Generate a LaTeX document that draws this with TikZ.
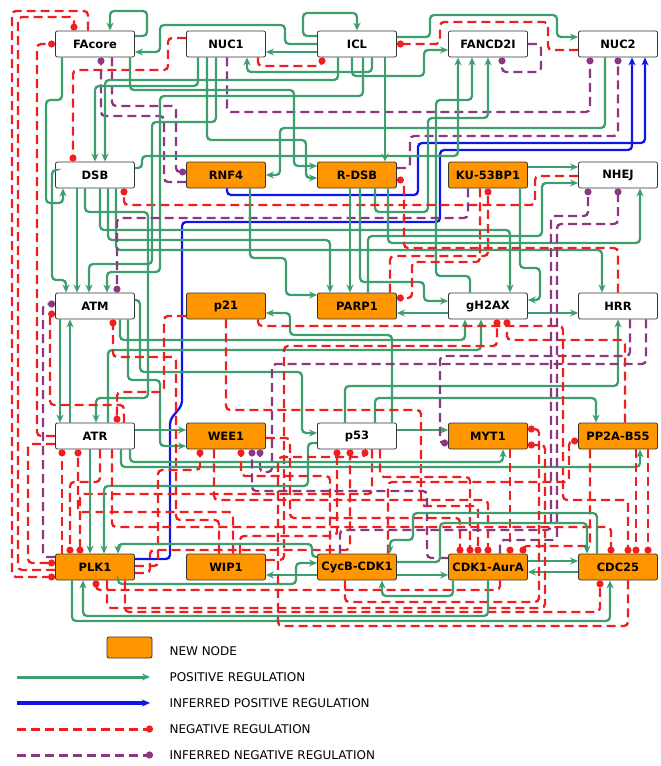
\documentclass[tikz,border=0pt]{standalone}
\usepackage{fontspec}
\setmainfont{DejaVu Sans}
\usetikzlibrary{arrows.meta}
\definecolor{posgreen}{RGB}{61,158,110}
\definecolor{negred}{RGB}{240,30,30}
\definecolor{infpurple}{RGB}{140,55,130}
\definecolor{infblue}{RGB}{15,20,235}
\definecolor{neworange}{RGB}{255,150,0}
\begin{document}
\begin{tikzpicture}[x=1pt,y=-1pt,
  gene/.style={draw=black!80, line width=.8pt, rounded corners=2pt, fill=white,
    minimum width=79pt, minimum height=26pt, inner xsep=1pt,
    font=\bfseries\fontsize{11.5}{13}\selectfont},
  newgene/.style={gene, fill=neworange},
  posreg/.style={draw=posgreen, line width=2.3pt, rounded corners=4pt, -{Stealth[length=8pt,width=7pt]}},
  iposreg/.style={posreg, draw=infblue},
  negreg/.style={draw=negred, line width=2.3pt, rounded corners=4pt, dash pattern=on 9pt off 5pt, -{Circle[length=7pt]}},
  inegreg/.style={negreg, draw=infpurple},
  lgtext/.style={anchor=west, font=\fontsize{12}{14}\selectfont}]
\useasboundingbox (0,0) rectangle (661,766);

\node[gene] (FAcore) at (95,44) {FAcore};
\node[gene] (NUC1) at (226,44) {NUC1};
\node[gene] (ICL) at (357,44) {ICL};
\node[gene] (FANCD2I) at (488,44) {FANCD2I};
\node[gene] (NUC2) at (618,44) {NUC2};
\node[gene] (DSB) at (95,175) {DSB};
\node[newgene] (RNF4) at (226,175) {RNF4};
\node[newgene] (R-DSB) at (357,175) {R-DSB};
\node[newgene] (KU-53BP1) at (488,175) {KU-53BP1};
\node[gene] (NHEJ) at (618,175) {NHEJ};
\node[gene] (ATM) at (95,306) {ATM};
\node[newgene] (p21) at (226,306) {p21};
\node[newgene] (PARP1) at (357,306) {PARP1};
\node[gene] (gH2AX) at (488,306) {gH2AX};
\node[gene] (HRR) at (618,306) {HRR};
\node[gene] (ATR) at (95,436) {ATR};
\node[newgene] (WEE1) at (226,436) {WEE1};
\node[gene] (p53) at (357,436) {p53};
\node[newgene] (MYT1) at (488,436) {MYT1};
\node[newgene] (PP2A-B55) at (618,436) {PP2A-B55};
\node[newgene] (PLK1) at (95,567) {PLK1};
\node[newgene] (WIP1) at (226,567) {WIP1};
\node[newgene] (CycB-CDK1) at (357,567) {CycB-CDK1};
\node[newgene] (CDK1-AurA) at (488,567) {CDK1-AurA};
\node[newgene] (CDC25) at (618,567) {CDC25};

% row 1 -> row 2
\draw[posreg] (FAcore.east|-0,36) -- (147,36) -- (147,11) -- (110,11) -- (110,0|-FAcore.north);
\draw[posreg] (ICL.west|-0,44) -- (285,44) -- (285,25) -- (160,25) -- (160,52) -- (FAcore.east|-0,52);
\draw[posreg] (ICL.west|-0,52) -- (NUC1.east|-0,52);
\draw[posreg] (ICL.west|-0,36) -- (303,36) -- (303,13) -- (357,13) -- (ICL.north);
\draw[posreg] (ICL.east|-0,37) -- (430,37) -- (430,15) -- (557,15) -- (557,37) -- (NUC2.west|-0,37);
\draw[negreg] (NUC2.west|-0,50) -- (548,50) -- (548,22) -- (440,22) -- (440,44) -- (ICL.east|-0,44);
\draw[inegreg] (FANCD2I.east|-0,44) -- (541,44) -- (541,72) -- (502,72) -- (502,0|-FANCD2I.south);
\draw[negreg] (NUC1.west|-0,38) -- (168,38) -- (168,70) -- (73,70) -- (73,0|-DSB.north);
\draw[negreg] (258,0|-NUC1.south) -- (258,66) -- (322,66) -- (322,0|-ICL.south);
\draw[inegreg] (227,0|-NUC1.south) -- (227,112) -- (590,112) -- (590,0|-NUC2.south);
\draw[inegreg] (R-DSB.east|-0,168) -- (410,168) -- (410,136) -- (618,136) -- (618,0|-NUC2.south);
\draw[iposreg] (227,0|-RNF4.south) -- (227,195) -- (418,195) -- (418,143) -- (645,143) -- (645,0|-NUC2.south);
\draw[iposreg] (PLK1.east|-0,559) -- (170,559) -- (170,420) -- (182,405) -- (182,222) -- (440,222) -- (440,150) -- (632,150) -- (632,0|-NUC2.south);
\draw[inegreg] (RNF4.west|-0,182) -- (164,182) -- (164,116) -- (101,116) -- (101,0|-FAcore.south);
\draw[inegreg] (112,0|-FAcore.south) -- (112,106) -- (176,106) -- (176,172) -- (RNF4.west|-0,172);
\draw[posreg] (62,0|-FAcore.south) -- (62,100) -- (46,100) -- (46,203) -- (63,203) -- (63,0|-DSB.south);
\draw[posreg] (130,0|-FAcore.south) -- (130,90) -- (294,90) -- (294,166) -- (R-DSB.west|-0,166);
\draw[posreg] (385,0|-ICL.south) -- (385,0|-R-DSB.north);
\draw[posreg] (338,0|-ICL.south) -- (338,80) -- (105,80) -- (105,0|-DSB.north);
\draw[posreg] (352,0|-ICL.south) -- (352,76) -- (424,76) -- (424,50) -- (FANCD2I.west|-0,50);
\draw[posreg] (372,0|-ICL.south) -- (372,72) -- (247,72) -- (247,0|-NUC1.south);
\draw[posreg] (605,0|-NUC2.south) -- (605,128) -- (280,128) -- (280,175) -- (RNF4.east|-0,175);
\draw[posreg] (207,0|-NUC1.south) -- (207,140) -- (306,140) -- (306,178) -- (R-DSB.west|-0,178);
\draw[posreg] (198,0|-NUC1.south) -- (198,86) -- (95,86) -- (95,0|-DSB.north);
\draw[posreg] (DSB.east|-0,168) -- (142,168) -- (142,156) -- (458,156) -- (458,0|-FANCD2I.south);
\draw[posreg] (470,0|-gH2AX.north) -- (470,276) -- (436,276) -- (436,100) -- (472,100) -- (472,0|-FANCD2I.south);
\draw[posreg] (375,0|-R-DSB.south) -- (375,212) -- (428,212) -- (428,118) -- (488,118) -- (488,0|-FANCD2I.south);

% row 2 -> row 3
\draw[posreg] (77,0|-DSB.south) -- (77,0|-ATM.north);
\draw[posreg] (85,0|-DSB.south) -- (85,212) -- (148,212) -- (148,398) -- (96,398) -- (96,0|-ATR.north);
\draw[posreg] (100,0|-DSB.south) -- (100,230) -- (510,230) -- (510,0|-gH2AX.north);
\draw[posreg] (108,0|-DSB.south) -- (108,240) -- (330,240) -- (330,0|-PARP1.north);
\draw[posreg] (116,0|-DSB.south) -- (116,250) -- (602,250) -- (602,0|-HRR.north);
\draw[negreg] (NHEJ.west|-0,176) -- (535,176) -- (535,205) -- (124,205) -- (124,0|-DSB.south);
\draw[posreg] (363,0|-ICL.south) -- (363,96) -- (160,96) -- (160,272) -- (107,272) -- (107,0|-ATM.north);
\draw[posreg] (216,0|-NUC1.south) -- (216,122) -- (152,122) -- (152,264) -- (89,264) -- (89,0|-ATM.north);
\draw[posreg] (DSB.west|-0,170) -- (52,170) -- (52,280) -- (66,280) -- (66,0|-ATM.north);
\draw[inegreg] (468,0|-KU-53BP1.south) -- (468,218) -- (117,218) -- (117,0|-ATM.north);
\draw[posreg] (350,0|-R-DSB.south) -- (350,0|-PARP1.north);
\draw[posreg] (250,0|-RNF4.south) -- (250,258) -- (286,258) -- (286,295) -- (PARP1.west|-0,295);
\draw[posreg] (360,0|-R-DSB.south) -- (360,282) -- (424,282) -- (424,301) -- (gH2AX.west|-0,301);
\draw[negreg] (480,0|-KU-53BP1.south) -- (480,262) -- (412,262) -- (412,298) -- (PARP1.east|-0,298);
\draw[negreg] (390,0|-PARP1.north) -- (390,256) -- (488,256) -- (488,0|-KU-53BP1.south);
\draw[posreg] (520,0|-KU-53BP1.south) -- (520,268) -- (540,268) -- (540,300) -- (gH2AX.east|-0,300);
\draw[posreg] (KU-53BP1.east|-0,167) -- (NHEJ.west|-0,167);
\draw[posreg] (368,0|-PARP1.north) -- (368,236) -- (542,236) -- (542,183) -- (NHEJ.west|-0,183);
\draw[posreg] (388,0|-R-DSB.south) -- (388,243) -- (640,243) -- (640,0|-NHEJ.south);
\draw[negreg] (618,0|-HRR.north) -- (618,248) -- (404,248) -- (404,180) -- (R-DSB.east|-0,180);
\draw[posreg] (gH2AX.west|-0,313) -- (PARP1.east|-0,313);
\draw[posreg] (gH2AX.east|-0,313) -- (HRR.west|-0,313);

% row 3 -> row 4
\draw[posreg] (70,0|-ATR.north) -- (70,0|-ATM.south);
\draw[posreg] (60,0|-ATM.south) -- (60,0|-ATR.north);
\draw[posreg] (ATM.east|-0,300) -- (140,300) -- (140,372) -- (302,372) -- (302,433) -- (p53.west|-0,433);
\draw[posreg] (ATR.east|-0,430) -- (WEE1.west|-0,430);
\draw[posreg] (128,0|-ATM.south) -- (128,380) -- (160,380) -- (160,446) -- (WEE1.west|-0,446);
\draw[posreg] (392,0|-p53.north) -- (392,335) -- (290,335) -- (290,313) -- (p21.east|-0,313);
\draw[posreg] (345,0|-p53.north) -- (345,386) -- (618,386) -- (618,0|-HRR.south);
\draw[posreg] (375,0|-p53.north) -- (375,398) -- (596,398) -- (596,0|-PP2A-B55.north);
\draw[posreg] (120,0|-ATM.south) -- (120,340) -- (465,340) -- (465,0|-gH2AX.south);
\draw[posreg] (108,0|-ATR.north) -- (108,350) -- (481,350) -- (481,0|-gH2AX.south);
\draw[posreg] (p53.east|-0,430) -- (MYT1.west|-0,430);
\draw[negreg] (WIP1.east|-0,560) -- (284,560) -- (284,346) -- (497,346) -- (497,0|-gH2AX.south);
\draw[negreg] (625,0|-PP2A-B55.north) -- (625,340) -- (507,340) -- (507,0|-gH2AX.south);
\draw[inegreg] (630,0|-HRR.south) -- (630,356) -- (440,356) -- (440,443) -- (MYT1.west|-0,443);
\draw[inegreg] (646,0|-HRR.south) -- (646,364) -- (272,364) -- (272,472) -- (260,472) -- (260,0|-WEE1.south);
\draw[negreg] (226,0|-p21.south) -- (226,410) -- (421,410) -- (421,506) -- (478,506) -- (478,0|-CDK1-AurA.north);
\draw[negreg] (258,0|-p21.south) -- (258,326) -- (563,326) -- (563,500) -- (628,500) -- (628,0|-CDC25.north);
\draw[negreg] (219,0|-WIP1.north) -- (219,520) -- (176,520) -- (176,357) -- (113,357) -- (113,0|-ATM.south);
\draw[negreg] (p21.west|-0,316) -- (164,316) -- (164,392) -- (117,392) -- (117,0|-ATR.north);
\draw[negreg] (124,0|-ATR.north) -- (124,405) -- (50,405) -- (50,314) -- (ATM.west|-0,314);
\draw[inegreg] (PLK1.west|-0,557) -- (43,557) -- (43,304) -- (ATM.west|-0,304);

% left margin
\draw[negreg] (ATR.west|-0,436) -- (37,436) -- (37,44) -- (FAcore.west|-0,44);
\draw[negreg] (88,0|-FAcore.north) -- (88,11) -- (12,11) -- (12,577) -- (PLK1.west|-0,577);
\draw[negreg] (PLK1.west|-0,570) -- (18,570) -- (18,17) -- (74,17) -- (74,0|-FAcore.north);
\draw[negreg] (ATR.west|-0,444) -- (28,444) -- (28,563) -- (PLK1.west|-0,563);

% row 4 -> row 5
\draw[negreg] (62,0|-PLK1.north) -- (62,0|-ATR.south);
\draw[negreg] (233,0|-WIP1.north) -- (233,512) -- (78,512) -- (78,0|-ATR.south);
\draw[negreg] (100,0|-ATR.south) -- (100,482) -- (70,482) -- (70,0|-PLK1.north);
\draw[negreg] (372,0|-p53.south) -- (372,494) -- (80,494) -- (80,0|-PLK1.north);
\draw[posreg] (90,0|-ATR.south) -- (90,0|-PLK1.north);
\draw[posreg] (p53.west|-0,443) -- (308,443) -- (308,486) -- (104,486) -- (104,0|-PLK1.north);
\draw[posreg] (130,0|-ATR.south) -- (130,462) -- (503,462) -- (503,0|-MYT1.south);
\draw[posreg] (121,0|-ATR.south) -- (121,467) -- (640,467) -- (640,0|-PP2A-B55.south);
\draw[negreg] (PLK1.east|-0,566) -- (158,566) -- (158,470) -- (200,470) -- (200,0|-WEE1.south);
\draw[negreg] (330,0|-CycB-CDK1.north) -- (330,476) -- (241,476) -- (241,0|-WEE1.south);
\draw[negreg] (240,0|-WIP1.north) -- (240,536) -- (337,536) -- (337,0|-p53.south);
\draw[negreg] (PLK1.east|-0,573) -- (150,573) -- (150,550) -- (350,550) -- (350,0|-p53.south);
\draw[negreg] (380,0|-p53.south) -- (380,477) -- (470,477) -- (470,0|-CDK1-AurA.north);
\draw[negreg] (WEE1.east|-0,438) -- (290,438) -- (290,518) -- (460,518) -- (460,0|-CDK1-AurA.north);
\draw[negreg] (214,0|-WEE1.south) -- (214,500) -- (488,500) -- (488,0|-CDK1-AurA.north);
\draw[inegreg] (CDK1-AurA.west|-0,558) -- (427,558) -- (427,491) -- (252,491) -- (252,0|-WEE1.south);
\draw[negreg] (510,0|-MYT1.south) -- (510,0|-CDK1-AurA.north);
\draw[negreg] (590,0|-PP2A-B55.south) -- (590,546) -- (523,546) -- (523,0|-CDK1-AurA.north);
\draw[negreg] (112,0|-ATR.south) -- (112,527) -- (611,527) -- (611,0|-CDC25.north);
\draw[negreg] (636,0|-PP2A-B55.south) -- (636,0|-CDC25.north);
\draw[negreg] (648,0|-PP2A-B55.south) -- (648,0|-CDC25.north);
\draw[negreg] (388,0|-CycB-CDK1.north) -- (388,482) -- (569,482) -- (569,441) -- (PP2A-B55.west|-0,441);
\draw[inegreg] (340,0|-CycB-CDK1.north) -- (340,530) -- (551,530) -- (551,216) -- (588,216) -- (588,0|-NHEJ.south);
\draw[inegreg] (500,0|-CDK1-AurA.north) -- (500,540) -- (557,540) -- (557,224) -- (618,224) -- (618,0|-NHEJ.south);
\draw[posreg] (CycB-CDK1.east|-0,562) -- (440,562) -- (440,523) -- (587,523) -- (587,0|-CDC25.north);
\draw[posreg] (597,0|-CDC25.north) -- (597,513) -- (413,513) -- (413,540) -- (390,540) -- (390,0|-CycB-CDK1.north);
\draw[posreg] (CycB-CDK1.west|-0,557) -- (312,557) -- (312,544) -- (118,544) -- (118,0|-PLK1.north);

% row 5
\draw[posreg] (CycB-CDK1.east|-0,575) -- (CDK1-AurA.west|-0,575);
\draw[posreg] (CDK1-AurA.east|-0,561) -- (CDC25.west|-0,561);
\draw[posreg] (CDC25.west|-0,572) -- (CDK1-AurA.east|-0,572);
\draw[posreg] (CycB-CDK1.west|-0,575) -- (WIP1.east|-0,575);
\draw[posreg] (118,0|-PLK1.south) -- (118,584) -- (296,584) -- (296,563) -- (CycB-CDK1.west|-0,563);
\draw[negreg] (500,0|-CDK1-AurA.south) -- (500,590) -- (96,590) -- (96,0|-PLK1.south);
\draw[posreg] (453,0|-CDK1-AurA.south) -- (453,596) -- (382,596) -- (382,0|-CycB-CDK1.south);
\draw[negreg] (345,0|-CycB-CDK1.south) -- (345,602) -- (539,602) -- (539,429) -- (MYT1.east|-0,429);
\draw[negreg] (107,0|-PLK1.south) -- (107,608) -- (545,608) -- (545,445) -- (MYT1.east|-0,445);
\draw[negreg] (125,0|-PLK1.south) -- (125,612) -- (600,612) -- (600,0|-CDC25.south);
\draw[posreg] (488,0|-CDK1-AurA.south) -- (488,616) -- (83,616) -- (83,0|-PLK1.south);
\draw[posreg] (72,0|-PLK1.south) -- (72,621) -- (610,621) -- (610,0|-CDC25.south);
\draw[negreg] (628,0|-CDC25.south) -- (628,626) -- (278,626) -- (278,457) -- (365,457) -- (365,0|-p53.south);

% legend
\node[newgene, minimum width=45pt, minimum height=21pt] (lgbox) at (129.5,647.5) {};
\node[lgtext] (lgnew) at (166,651) {NEW NODE};
\node[lgtext] (lgpos) at (166,677) {POSITIVE REGULATION};
\node[lgtext] (lgipos) at (166,703) {INFERRED POSITIVE REGULATION};
\node[lgtext] (lgneg) at (166,729) {NEGATIVE REGULATION};
\node[lgtext] (lgineg) at (166,755) {INFERRED NEGATIVE REGULATION};
\coordinate (lpa) at (17,677); \coordinate (lpb) at (150,677);
\coordinate (lia) at (17,703); \coordinate (lib) at (150,703);
\coordinate (lna) at (17,729); \coordinate (lnb) at (153,729);
\coordinate (lma) at (17,755); \coordinate (lmb) at (153,755);
\draw[posreg, line width=3pt] (lpa) -- (lpb);
\draw[iposreg, line width=3.5pt] (lia) -- (lib);
\draw[negreg, line width=3pt] (lna) -- (lnb);
\draw[inegreg, line width=3pt] (lma) -- (lmb);
\end{tikzpicture}
\end{document}
